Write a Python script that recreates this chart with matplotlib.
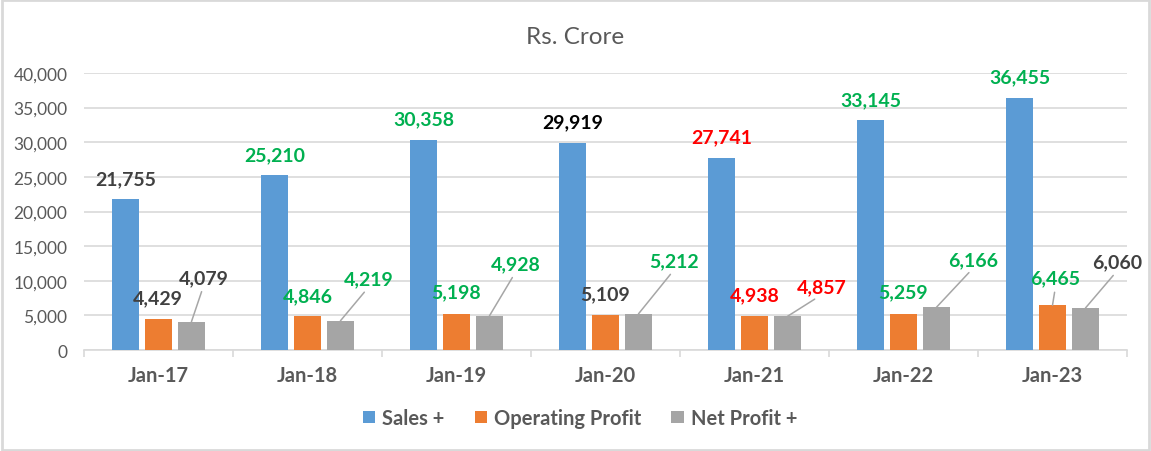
import matplotlib.pyplot as plt
from matplotlib.patches import Rectangle
from matplotlib.ticker import FuncFormatter, FixedLocator

# data
categories = ['Jan-17', 'Jan-18', 'Jan-19', 'Jan-20', 'Jan-21', 'Jan-22', 'Jan-23']
sales = [21755, 25210, 30358, 29919, 27741, 33145, 36455]
op_profit = [4429, 4846, 5198, 5109, 4938, 5259, 6465]
net_profit = [4079, 4219, 4928, 5212, 4857, 6166, 6060]

# label colours (green = up, red = down)
GREEN, RED, DARK, BLACK = '#00B050', '#FF0000', '#404040', '#000000'
sales_colors = [DARK, GREEN, GREEN, BLACK, RED, GREEN, GREEN]
op_colors = [DARK, GREEN, GREEN, DARK, RED, GREEN, GREEN]
net_colors = [DARK, GREEN, GREEN, GREEN, RED, GREEN, DARK]

# label placement (pixels from bar top), and which ones get a leader line
sales_off = [(0, 21)] * 7
op_off = [(-1, 22), (0, 21), (0, 22), (0, 21), (0, 21), (0, 22), (3, 27)]
op_leader = [False] * 6 + [True]
net_off = [(12, 44), (28, 42), (26, 52), (36, 53), (34, 30), (37, 48), (32, 46)]
net_leader = [True] * 7

plt.rcParams['font.family'] = ['Lato', 'DejaVu Sans']

fig = plt.figure(figsize=(11.51, 4.52), dpi=100)
ax = fig.add_axes([84 / 1151, 1 - 351 / 452, (1127 - 84) / 1151, (351 - 74) / 452])

x = list(range(len(categories)))
w = 0.178
step = 0.221
series = [
    (sales, '#5B9BD5', 'Sales +', -step, sales_colors, sales_off, [False] * 7),
    (op_profit, '#ED7D31', 'Operating Profit', 0, op_colors, op_off, op_leader),
    (net_profit, '#A5A5A5', 'Net Profit +', step, net_colors, net_off, net_leader),
]

for vals, col, name, shift, lcols, offs, leads in series:
    xs = [i + shift for i in x]
    ax.bar(xs, vals, width=w, color=col, label=name, zorder=3)
    for xi, v, lc, off, lead in zip(xs, vals, lcols, offs, leads):
        kw = {}
        if lead:
            kw['arrowprops'] = dict(arrowstyle='-', color='#A6A6A6', lw=1.1,
                                    shrinkA=2, shrinkB=0, relpos=(0.5, 0))
        ax.annotate(f'{v:,}', xy=(xi, v), xytext=off, textcoords='offset pixels',
                    ha='center', va='center', fontsize=14, fontweight='bold',
                    color=lc, zorder=4, **kw)

ax.set_xlim(-0.5, len(categories) - 0.5)
ax.set_ylim(0, 40000)
ax.set_yticks(range(0, 40001, 5000))
ax.yaxis.set_major_formatter(FuncFormatter(lambda v, p: f'{int(v):,}'))
ax.grid(axis='y', color='#D9D9D9', lw=1.2, zorder=0)
ax.tick_params(axis='y', length=0, pad=12, labelsize=12.5, labelcolor='#595959')

# category boundaries get ticks, centres get labels
ax.xaxis.set_major_locator(FixedLocator([i - 0.5 for i in range(len(categories) + 1)]))
ax.xaxis.set_minor_locator(FixedLocator(x))
ax.set_xticklabels([], minor=False)
ax.set_xticklabels(categories, minor=True, fontweight='bold')
ax.tick_params(axis='x', which='major', length=5, color='#D9D9D9', width=1.2)
ax.tick_params(axis='x', which='minor', length=0, pad=11, labelsize=14.5, labelcolor='#595959')

for s in ['top', 'right', 'left']:
    ax.spines[s].set_visible(False)
ax.spines['bottom'].set_color('#D9D9D9')
ax.spines['bottom'].set_linewidth(1.2)

fig.text(0.5, 1 - 37 / 452, 'Rs. Crore', ha='center', va='center',
         fontsize=17.5, color='#595959')

leg = fig.legend(loc='center', bbox_to_anchor=(0.504, 1 - 419 / 452), ncol=3,
                 frameon=False, handlelength=0.6, handleheight=0.6,
                 handletextpad=0.35, columnspacing=1.5,
                 prop={'size': 14.5, 'weight': 'bold'})
for t in leg.get_texts():
    t.set_color('#595959')

fig.patches.append(Rectangle((0.0015, 0.003), 0.997, 0.994, transform=fig.transFigure,
                             fill=False, ec='#D9D9D9', lw=2))

fig.savefig('out.png', dpi=100)
